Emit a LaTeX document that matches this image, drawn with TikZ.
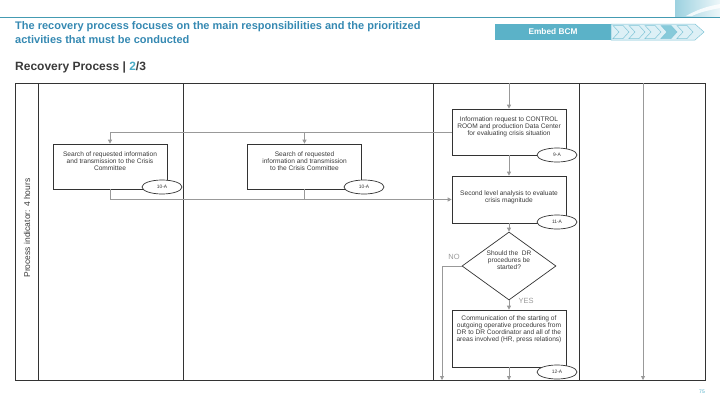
\documentclass[tikz,border=0pt]{standalone}
\usepackage{fontspec}
\setmainfont{Liberation Sans}
\usetikzlibrary{arrows.meta,shapes.geometric}
\definecolor{titleblue}{HTML}{3589B2}
\definecolor{tealc}{HTML}{4BACC6}
\definecolor{barfill}{HTML}{5BB2C8}
\definecolor{lightchev}{HTML}{DDF0F6}
\definecolor{midchev}{HTML}{86CADA}
\definecolor{darkg}{HTML}{3A3A3A}
\definecolor{connc}{HTML}{999999}
\definecolor{framec}{HTML}{333333}
\tikzset{
  lane/.style={draw=framec, line width=0.8pt},
  box/.style={draw=framec, line width=0.7pt, fill=white, minimum width=114pt, inner sep=0pt},
  txt/.style={font=\fontsize{6.6}{6.8}\selectfont, text=darkg, align=center, inner sep=0pt, anchor=north},
  tag/.style={ellipse, draw=framec, line width=0.7pt, fill=white, minimum width=40pt, minimum height=14pt, inner sep=0pt, font=\fontsize{4.9}{5}\selectfont, text=darkg},
  conn/.style={draw=connc, line width=0.8pt, -{Triangle[width=4pt,length=4pt]}},
  plain/.style={draw=connc, line width=0.8pt},
  chev/.style={draw=tealc!70, line width=0.5pt, fill=lightchev},
}
\begin{document}
\begin{tikzpicture}[x=1pt,y=-1pt]
\useasboundingbox (0,0) rectangle (720,405);
% header
\shade[left color=tealc!55, right color=tealc!10] (675,0) rectangle (720,16);
\fill[white, opacity=0.8] (686,16) .. controls (700,8) and (710,6) .. (720,4) -- (720,8) .. controls (710,10) and (700,12) .. (692,16) -- cycle;
\draw[tealc!90!black, line width=0.8pt] (0,17) -- (720,17);
\node[anchor=north west, inner sep=0pt, align=left, text=titleblue, font=\fontsize{11}{13.8}\selectfont\bfseries] (title) at (15,21.5) {The recovery process focuses on the main responsibilities and the prioritized\\activities that must be conducted};
\node[anchor=west, inner sep=0pt, text=darkg, font=\fontsize{12}{13}\selectfont\bfseries] (sub) at (15,67) {Recovery Process | \textcolor{tealc}{2}/3};
% embed bar
\node[fill=barfill, minimum width=116pt, minimum height=16pt, inner sep=0pt, text=white, font=\fontsize{8.3}{9}\selectfont\bfseries] (embed) at (553,32) {Embed BCM};
\draw[chev] (611,24) -- (695,24) -- (704,32) -- (695,40) -- (611,40) -- cycle;
\foreach \x/\c in {613/lightchev,629/lightchev,645/lightchev,661/midchev,677/lightchev}{
  \draw[chev, fill=\c] (\x,25.5) -- (\x+10,25.5) -- (\x+16,32) -- (\x+10,38.5) -- (\x,38.5) -- (\x+6,32) -- cycle;
}
% frame and lanes
\draw[lane] (15,83) rectangle (705,380);
\draw[lane] (38,83) -- (38,380);
\draw[lane] (183,83) -- (183,380);
\draw[lane] (433,83) -- (433,380);
\draw[lane] (579,83) -- (579,380);
\node[rotate=90, text=darkg, font=\fontsize{8.5}{9}\selectfont] (ind) at (27,228) {Process indicator: 4 hours};
% boxes
\node[box, minimum height=45pt] (b1) at (110,166.5) {};
\node[txt] (t1) at (110,151.5) {Search of requested information\\and transmission to the Crisis\\Committee};
\node[box, minimum height=45pt] (b2) at (304.5,166.5) {};
\node[txt] (t2) at (304.5,151.5) {Search of requested\\information and transmission\\to the Crisis Committee};
\node[box, minimum height=46pt] (b9) at (509,132) {};
\node[txt] (t9) at (509,116.5) {Information request to CONTROL\\ROOM and production Data Center\\for evaluating crisis situation};
\node[box, minimum height=47pt] (b11) at (509,199.5) {};
\node[txt] (t11) at (509,191) {Second level analysis to evaluate\\crisis magnitude};
\node[diamond, draw=framec, line width=0.7pt, fill=white, minimum width=94pt, minimum height=68pt, inner sep=0pt] (d) at (509,266) {};
\node[txt] (td) at (509,251) {Should the\ \ DR\\procedures be\\started?};
\node[box, minimum height=57pt] (b12) at (509,338.5) {};
\node[txt] (t12) at (509,316) {Communication of the starting of\\outgoing operative procedures from\\DR to DR Coordinator and all of the\\areas involved (HR, press relations)};
% connectors
\coordinate (top9) at (509,83);
\coordinate (noend) at (442,380);
\coordinate (end12) at (509,380);
\coordinate (rtop) at (643,83);
\coordinate (rbot) at (643,380);
\draw[conn] (top9) -- (b9.north);
\draw[conn] (b9.west) -| (b1.north);
\draw[conn] (b9.west) -| (b2.north);
\draw[conn] (b1.south) |- (b11.west);
\draw[plain] (b2.south) -- (b2.south |- b11.west);
\draw[conn] (b9.south) -- (b11.north);
\draw[conn] (b11.south) -- (d.north);
\draw[conn] (d.south) -- (b12.north);
\draw[conn] (d.west) -| (noend);
\draw[conn] (b12.south) -- (end12);
\draw[conn] (rtop) -- (rbot);
% tags
\node[tag] (e1) at (162,187) {10-A};
\node[tag] (e2) at (364,187) {10-A};
\node[tag] (e9) at (557,155) {9-A};
\node[tag] (e11) at (557,222) {11-A};
\node[tag] (e12) at (557,372) {12-A};
% labels
\node[text=connc, font=\fontsize{7.5}{8}\selectfont] (no) at (454,257) {NO};
\node[text=connc, font=\fontsize{7.5}{8}\selectfont] (yes) at (526,301) {YES};
\node[text=tealc, font=\fontsize{5}{5}\selectfont] (pg) at (702,392) {75};
\end{tikzpicture}
\end{document}
